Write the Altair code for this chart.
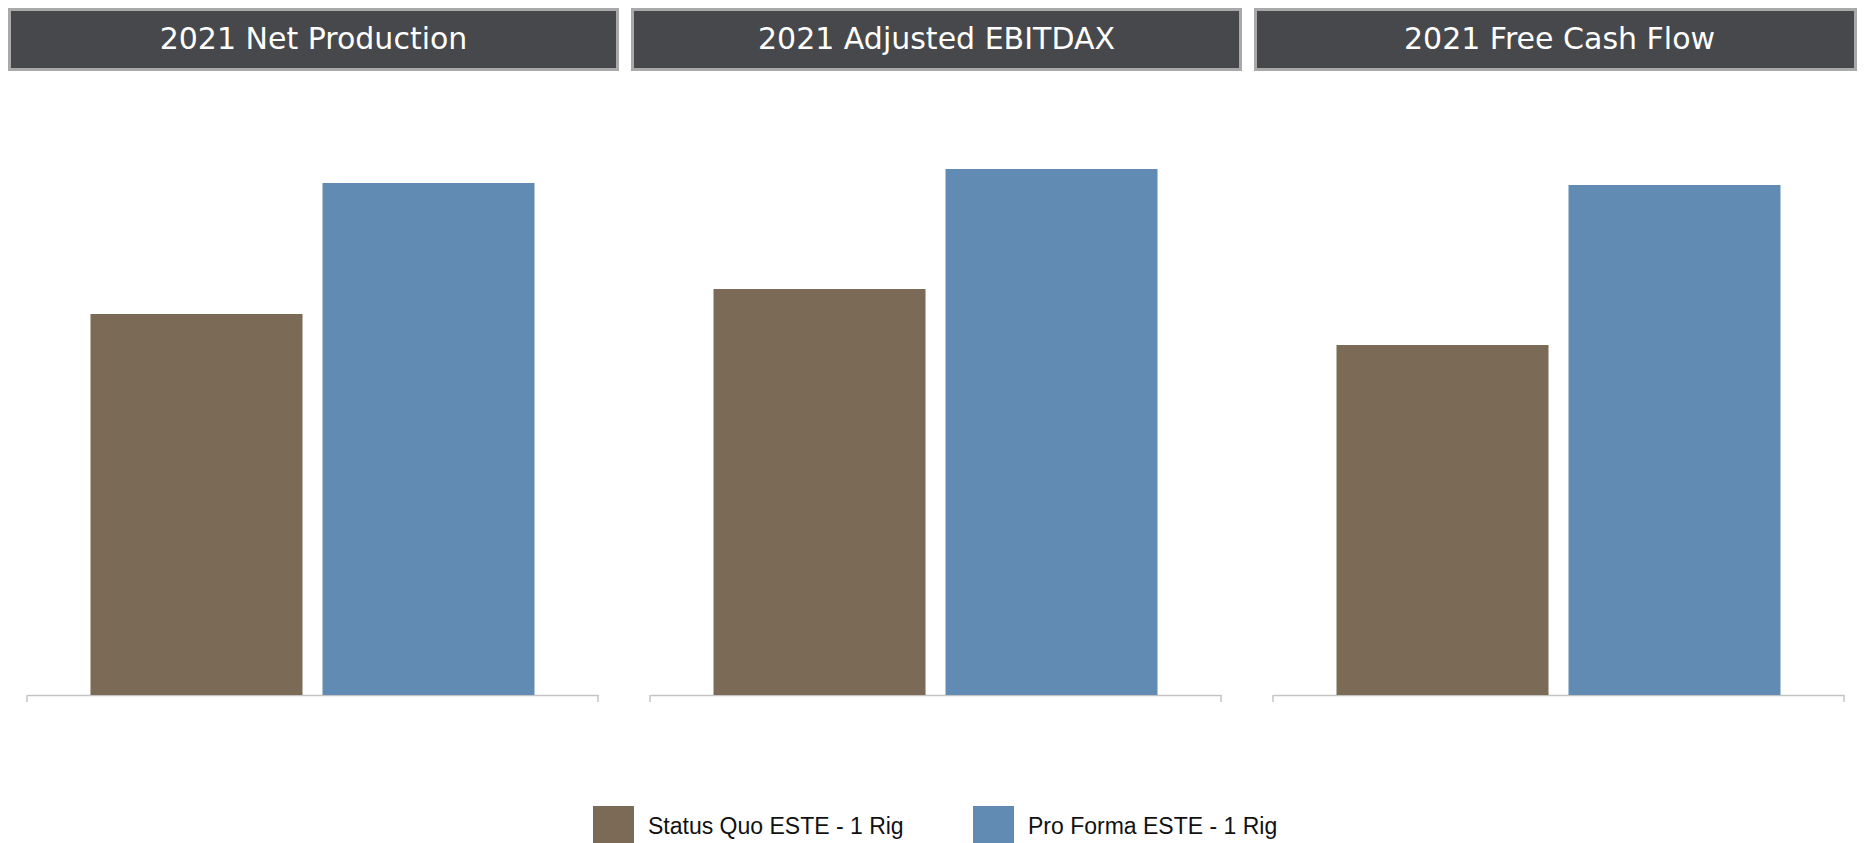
import altair as alt
import pandas as pd

panels = ["2021 Net Production", "2021 Adjusted EBITDAX", "2021 Free Cash Flow"]
scenarios = ["Status Quo ESTE - 1 Rig", "Pro Forma ESTE - 1 Rig"]
status_quo = [381, 406, 350]
pro_forma = [512, 526, 510]
colors = ["#7b6a55", "#628bb3"]

rows = []
for p, sq, pf in zip(panels, status_quo, pro_forma):
    rows.append({"panel": p, "scenario": scenarios[0], "value": sq})
    rows.append({"panel": p, "scenario": scenarios[1], "value": pf})
df = pd.DataFrame(rows)

W = 571
H = 595
AXIS_GREY = "#c4c4c4"
one = alt.Data(values=[{"k": 1}])


def panel_chart(name, box_right):
    bars = (
        alt.Chart(df)
        .transform_filter(alt.datum.panel == name)
        .mark_bar()
        .encode(
            x=alt.X(
                "scenario:N",
                sort=scenarios,
                scale=alt.Scale(paddingInner=0.0862, paddingOuter=0.2737),
                axis=alt.Axis(
                    title=None, labels=False, ticks=False, grid=False,
                    domain=True, domainColor=AXIS_GREY, domainWidth=1.5,
                ),
            ),
            y=alt.Y("value:Q", scale=alt.Scale(domain=[0, H]), axis=None),
            color=alt.Color(
                "scenario:N",
                sort=scenarios,
                scale=alt.Scale(domain=scenarios, range=colors),
                legend=alt.Legend(
                    title=None,
                    orient="none",
                    legendX=566,
                    legendY=706,
                    direction="horizontal",
                    symbolType="square",
                    symbolSize=1681,
                    symbolStrokeWidth=0,
                    symbolOpacity=1,
                    labelFont="Liberation Sans",
                    labelFontSize=23,
                    labelColor="#111111",
                    labelOffset=14,
                    labelLimit=600,
                    columnPadding=69,
                ),
            ),
        )
    )
    tick_l = alt.Chart(one).mark_rule(color=AXIS_GREY, strokeWidth=1.5).encode(
        x=alt.value(0), y=alt.value(H), y2=alt.value(H + 7)
    )
    tick_r = alt.Chart(one).mark_rule(color=AXIS_GREY, strokeWidth=1.5).encode(
        x=alt.value(W), y=alt.value(H), y2=alt.value(H + 7)
    )
    box = alt.Chart(one).mark_rect(
        fill="#47484c", stroke="#a9a9a9", strokeWidth=3
    ).encode(
        x=alt.value(-17.5), x2=alt.value(box_right - 1.5),
        y=alt.value(-90.5), y2=alt.value(-30.5),
    )
    label = alt.Chart(one).mark_text(
        color="white", font="DejaVu Sans", fontSize=30,
        align="center", baseline="middle",
    ).encode(x=alt.value(286.5), y=alt.value(-60.5), text=alt.value(name))
    return alt.layer(box, label, bars, tick_l, tick_r).properties(width=W, height=H)


box_rights = [592, 592, 584]
chart = (
    alt.hconcat(*[panel_chart(p, r) for p, r in zip(panels, box_rights)], spacing=12)
    .resolve_scale(color="shared")
    .properties(padding=0, background="white")
    .configure_view(stroke=None)
)

chart.save("out.html", embed_options={"renderer": "svg", "actions": False})
